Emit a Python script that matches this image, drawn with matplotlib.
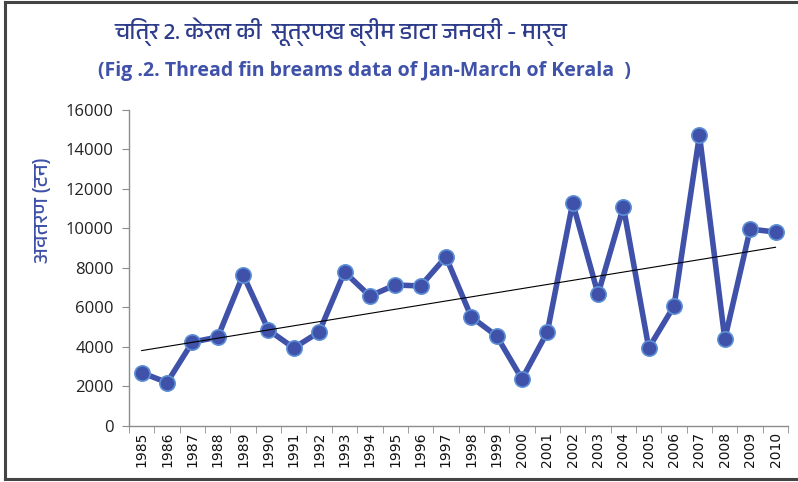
import matplotlib
matplotlib.use("Agg")
import matplotlib.pyplot as plt
from matplotlib import font_manager
from matplotlib.lines import Line2D
import numpy as np

# data
years = [str(y) for y in range(1985, 2011)]
landings = [2700, 2200, 4250, 4500, 7650, 4860, 3950, 4760, 7800, 6580,
            7140, 7090, 8560, 5520, 4560, 2380, 4760, 11290, 6680, 11090,
            3950, 6080, 14730, 4400, 9970, 9820]
yticks = [0, 2000, 4000, 6000, 8000, 10000, 12000, 14000, 16000]

title_hi = "चित्र 2. केरल की  सूत्रपख ब्रीम डाटा जनवरी - मार्च"
title_en = "(Fig .2. Thread fin breams data of Jan-March of Kerala  )"
ylabel_hi = "अवतरण (टन)"

# look for any installed font that can draw Devanagari
deva = []
for f in font_manager.fontManager.ttflist:
    n = f.name.lower()
    if any(k in n for k in ("devanagari", "lohit", "mukta", "mangal", "gargi", "kalimati", "hind")):
        if f.name not in deva:
            deva.append(f.name)
hi_family = deva + ["Noto Sans", "DejaVu Sans"]

navy = "#2E3C8C"
blue = "#3F51A8"

fig = plt.figure(figsize=(7.98, 4.82), dpi=100)
ax = fig.add_axes([0.1617, 0.1162, 0.826, 0.6556])

x = np.arange(len(years))
ax.plot(x, landings, color=blue, lw=4, marker="o", ms=11,
        mfc=blue, mec="#5C8FD6", mew=1.2, zorder=3)

# linear trend line
k, b = np.polyfit(x, landings, 1)
ax.plot(x, k * x + b, color="black", lw=0.8, zorder=4)

ax.set_xlim(-0.5, len(years) - 0.5)
ax.set_ylim(0, 16000)
ax.set_yticks(yticks)
ax.set_yticklabels([str(v) for v in yticks], fontsize=12, family="Open Sans", color="#222222")
ax.set_xticks(x)
ax.set_xticklabels(years, rotation=90, fontsize=10, family="DejaVu Sans", color="#111111")
ax.set_xticks(np.arange(len(years) + 1) - 0.5, minor=True)
ax.tick_params(axis="x", which="major", length=0, pad=4)
ax.tick_params(axis="x", which="minor", length=5, color="#8c8c8c", direction="out")
ax.tick_params(axis="y", length=5, color="#8c8c8c", direction="out", pad=6)

for s in ("top", "right"):
    ax.spines[s].set_visible(False)
for s in ("left", "bottom"):
    ax.spines[s].set_color("#8c8c8c")
    ax.spines[s].set_linewidth(1)

fig.text(0.427, 0.934, title_hi, ha="center", va="center", fontsize=17,
         fontweight="bold", color=navy, family=hi_family)
fig.text(0.457, 0.853, title_en, ha="center", va="center", fontsize=14,
         fontweight="bold", color=blue, family="Open Sans")
fig.text(0.053, 0.565, ylabel_hi, ha="center", va="center", rotation=90,
         fontsize=15, fontweight="bold", color=blue, family=hi_family)

# outer frame (top, left, bottom)
fig.add_artist(Line2D([0.006, 1.0], [0.996, 0.996], color="#444444", lw=2.2))
fig.add_artist(Line2D([0.006, 0.006], [0.006, 0.996], color="#444444", lw=2.2))
fig.add_artist(Line2D([0.006, 1.0], [0.006, 0.006], color="#444444", lw=2.2))

fig.savefig("out.png", dpi=100, facecolor="white")
